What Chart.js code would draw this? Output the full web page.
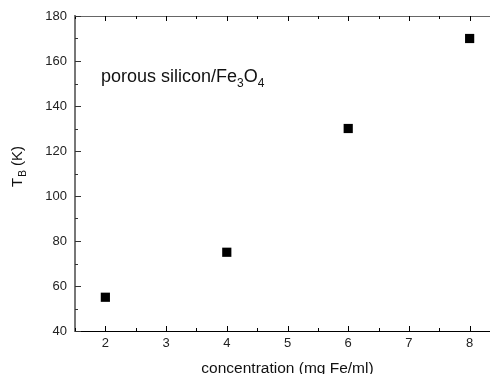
<!DOCTYPE html>
<html>
<head>
<meta charset="utf-8">
<script src="https://cdn.jsdelivr.net/npm/chart.js@4"></script>
<style>
body{margin:0;background:#fff;overflow:hidden;}
.wrap{width:490px;height:374px;overflow:hidden;}
</style>
</head>
<body>
<div class="wrap"><canvas class="chart-1" width="520" height="374"></canvas></div>
<script>
// data
const concentration = [2, 4, 6, 8];
const blockingTemp = [55, 75, 130, 170];
const xTicks = [2, 3, 4, 5, 6, 7, 8];
const yTicks = [40, 60, 80, 100, 120, 140, 160, 180];

const FONT = '"Liberation Sans", Arial, sans-serif';

// inward ticks, minor ticks, top frame and the texts
const framePlugin = {
    id: 'frame',
    afterDraw(chart){
        const c = chart.ctx;
        const a = chart.chartArea;
        const xs = chart.scales.x, ys = chart.scales.y;
        c.save();
        // top frame
        c.strokeStyle = '#666';
        c.lineWidth = 1;
        c.beginPath();
        c.moveTo(a.left, a.top + 0.5); c.lineTo(a.right, a.top + 0.5);
        c.stroke();

        // x ticks, bottom and top
        c.strokeStyle = '#000';
        for (let v = 1.5; v <= 8.5; v += 0.5){
            const px = Math.round(xs.getPixelForValue(v)) + 0.5;
            const major = Number.isInteger(v);
            const len = major ? 5 : 3;
            c.beginPath();
            c.moveTo(px, a.bottom); c.lineTo(px, a.bottom - len);
            c.moveTo(px, a.top); c.lineTo(px, a.top + len);
            c.stroke();
        }
        // y ticks, inward
        c.strokeStyle = '#333';
        for (let v = 40; v <= 180; v += 10){
            const py = Math.round(ys.getPixelForValue(v)) + 0.5;
            const len = v % 20 === 0 ? 6 : 3;
            c.beginPath();
            c.moveTo(a.left, py); c.lineTo(a.left + len, py);
            c.stroke();
        }

        c.fillStyle = '#111';
        c.textBaseline = 'alphabetic';
        // annotation text with subscripts
        let x = 101, y = 82;
        const parts = [['porous silicon/Fe', 0], ['3', 1], ['O', 0], ['4', 1]];
        parts.forEach(p => {
            c.font = (p[1] ? '12px ' : '18px ') + FONT;
            c.fillText(p[0], x, y + (p[1] ? 5 : 0));
            x += c.measureText(p[0]).width;
        });

        // y title, rotated
        c.save();
        c.translate(22, 187);
        c.rotate(-Math.PI / 2);
        c.font = '15px ' + FONT;
        c.fillText('T', 0, 0);
        let w = c.measureText('T').width + 1;
        c.font = '10px ' + FONT;
        c.fillText('B', w, 4);
        w += c.measureText('B').width;
        c.font = '15px ' + FONT;
        c.fillText(' (K)', w, 0);
        c.restore();

        // x title
        c.font = '15.5px ' + FONT;
        c.textAlign = 'center';
        c.fillText('concentration (mg Fe/ml)', (a.left + a.right) / 2, 373);
        c.restore();
    }
};

const ctx = document.querySelector('.chart-1').getContext('2d');
let myChart = new Chart(ctx, {
    type: 'scatter',
    data: {
        datasets: [{
            data: concentration.map((c, i) => ({x: c, y: blockingTemp[i]})),
            pointStyle: 'rect',
            pointRadius: 6.5,
            pointHoverRadius: 6.5,
            backgroundColor: '#000',
            borderColor: '#000',
            borderWidth: 0
        }]
    },
    options: {
        responsive: false,
        animation: false,
        layout: {padding: {top: 16, right: 20, left: 0, bottom: 0}},
        plugins: {
            legend: {display: false},
            tooltip: {enabled: false}
        },
        scales: {
            x: {
                type: 'linear',
                min: 1.5,
                max: 8.5,
                afterBuildTicks(s){ s.ticks = xTicks.map(v => ({value: v})); },
                afterFit(s){ s.height = 43; },
                grid: {display: false, drawTicks: false},
                border: {display: true, color: '#000', width: 1},
                ticks: {color: '#222', font: {family: FONT, size: 13}, padding: 5}
            },
            y: {
                min: 40,
                max: 180,
                afterBuildTicks(s){ s.ticks = yTicks.map(v => ({value: v})); },
                afterFit(s){ s.width = 75; },
                grid: {display: false, drawTicks: false},
                border: {display: true, color: '#777', width: 2},
                ticks: {color: '#222', font: {family: FONT, size: 13}, padding: 8}
            }
        }
    },
    plugins: [framePlugin]
});
</script>
</body>
</html>
